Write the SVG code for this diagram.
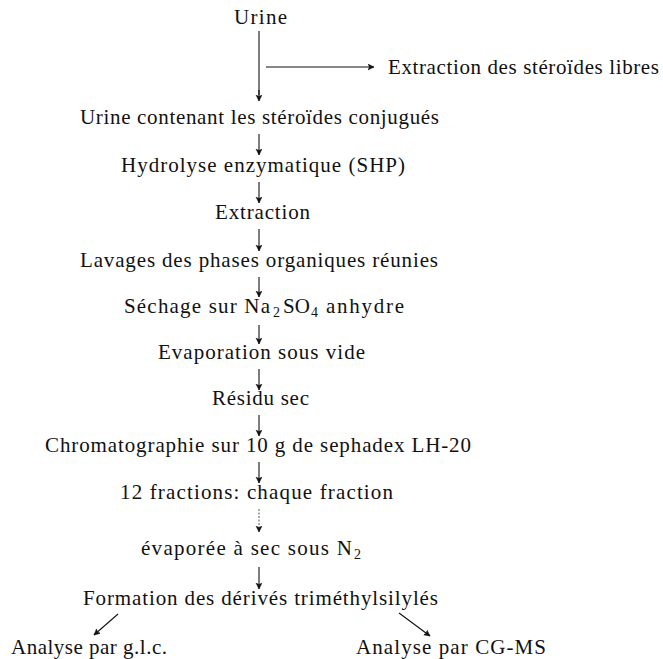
<svg xmlns="http://www.w3.org/2000/svg" width="663" height="659" viewBox="0 0 663 659">
<defs>
<marker id="ah" markerWidth="8" markerHeight="8" refX="6" refY="3" orient="auto" markerUnits="userSpaceOnUse">
<path d="M0,0 L6,3 L0,6 L1.5,3 Z" fill="#111" stroke="#111" stroke-width="0.5"/>
</marker>
<style>
text{font-family:"Liberation Serif","Times New Roman",serif;font-size:21px;fill:#111;}
.sub{font-size:14px;}
.c{stroke:#111;stroke-width:1.1;fill:none;marker-end:url(#ah);}
.l{stroke:#111;stroke-width:1.1;fill:none;}
.d{stroke:#444;stroke-width:0.9;fill:none;stroke-dasharray:2 1.5;marker-end:url(#ah);}
</style>
</defs>
<rect width="663" height="659" fill="#fff"/>
<g id="connectors">
<line class="l" x1="259" y1="31" x2="259" y2="95"/>
<line class="c" x1="259" y1="90" x2="259" y2="101"/>
<line class="c" x1="266" y1="67" x2="374" y2="67"/>
<line class="c" x1="259" y1="134" x2="259" y2="155"/>
<line class="c" x1="259" y1="182" x2="259" y2="203"/>
<line class="c" x1="259" y1="229" x2="259" y2="251"/>
<line class="c" x1="259" y1="277" x2="259" y2="297"/>
<line class="c" x1="259" y1="325" x2="259" y2="344"/>
<line class="c" x1="259" y1="369" x2="259" y2="390"/>
<line class="c" x1="259" y1="415" x2="259" y2="436"/>
<line class="c" x1="259" y1="462" x2="259" y2="483"/>
<line class="d" x1="259" y1="509" x2="259" y2="532"/>
<line class="c" x1="259" y1="567" x2="259" y2="589"/>
<line class="c" x1="118" y1="614" x2="94" y2="635"/>
<line class="c" x1="399" y1="613" x2="430" y2="636"/>
</g>
<g id="n-urine"><text x="234" y="24" textLength="53" lengthAdjust="spacing">Urine</text></g>
<g id="n-libres"><text x="388" y="74" textLength="271" lengthAdjust="spacing">Extraction des stéroïdes libres</text></g>
<g id="n-conj"><text x="80" y="124" textLength="359" lengthAdjust="spacing">Urine contenant les stéroïdes conjugués</text></g>
<g id="n-hydro"><text x="121" y="172" textLength="284" lengthAdjust="spacing">Hydrolyse enzymatique (SHP)</text></g>
<g id="n-extr"><text x="215" y="219" textLength="95" lengthAdjust="spacing">Extraction</text></g>
<g id="n-lav"><text x="80" y="267" textLength="358" lengthAdjust="spacing">Lavages des phases organiques réunies</text></g>
<g id="n-sech"><text y="313"><tspan x="124" textLength="146" lengthAdjust="spacing">Séchage sur Na</tspan><tspan class="sub" x="273" dy="4">2</tspan><tspan x="283" dy="-4">SO</tspan><tspan class="sub" x="311" dy="4">4</tspan><tspan x="326" dy="-4" textLength="78" lengthAdjust="spacing">anhydre</tspan></text></g>
<g id="n-evap"><text x="158" y="359" textLength="207" lengthAdjust="spacing">Evaporation sous vide</text></g>
<g id="n-res"><text x="212" y="405" textLength="97" lengthAdjust="spacing">Résidu sec</text></g>
<g id="n-chrom"><text x="45" y="452" textLength="426" lengthAdjust="spacing">Chromatographie sur 10 g de sephadex LH-20</text></g>
<g id="n-frac"><text x="120" y="499" textLength="273" lengthAdjust="spacing">12 fractions: chaque fraction</text></g>
<g id="n-evap2"><text y="555"><tspan x="141" textLength="211" lengthAdjust="spacing">évaporée à sec sous N</tspan><tspan class="sub" x="354" dy="4">2</tspan></text></g>
<g id="n-form"><text x="83" y="605" textLength="355" lengthAdjust="spacing">Formation des dérivés triméthylsilylés</text></g>
<g id="n-glc"><text x="11" y="654" textLength="156" lengthAdjust="spacing">Analyse par g.l.c.</text></g>
<g id="n-cgms"><text x="356" y="654" textLength="190" lengthAdjust="spacing">Analyse par CG-MS</text></g>
</svg>
